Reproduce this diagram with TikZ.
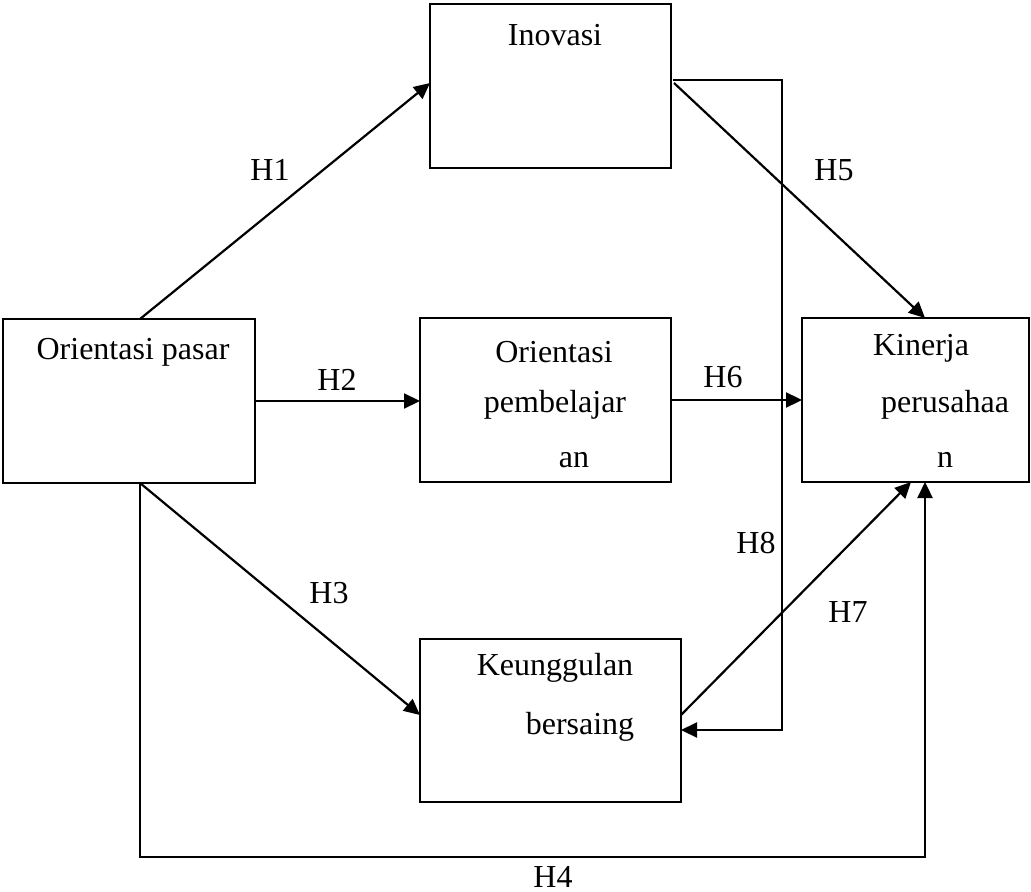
\documentclass[tikz,border=0pt]{standalone}
\usepackage{fontspec}
\setmainfont{Liberation Serif}
\usetikzlibrary{arrows.meta,calc}
\begin{document}
\begin{tikzpicture}[x=0.5pt,y=-0.5pt,
  box/.style={draw,line width=1.1pt,inner sep=0pt,outer sep=0pt},
  txt/.style={inner sep=0pt,font=\fontsize{16}{19}\selectfont},
  arr/.style={line width=1.1pt,-{Triangle[length=8pt,width=7.5pt]}},
  ln/.style={line width=1.1pt}]
\useasboundingbox (0,0) rectangle (1031,892);
% boxes
\node[box,minimum width=120.5pt,minimum height=82pt] (inov) at (550.5,86) {};
\node[box,minimum width=126pt,minimum height=82pt] (pasar) at (129,401) {};
\node[box,minimum width=125.5pt,minimum height=82pt] (belajar) at (545.5,400) {};
\node[box,minimum width=113.5pt,minimum height=82pt] (kinerja) at (915.5,400) {};
\node[box,minimum width=130.5pt,minimum height=81.5pt] (unggul) at (550.5,720.5) {};
% box texts
\node[txt] (tinov) at (555,35) {Inovasi};
\node[txt] (tpasar) at (133,352) {Orientasi pasar};
\node[txt] (tb1) at (554,352) {Orientasi};
\node[txt] (tb2) at (555,405) {pembelajar};
\node[txt] (tb3) at (574,460) {an};
\node[txt] (tk1) at (921,348) {Kinerja};
\node[txt] (tk2) at (945,405) {perusahaa};
\node[txt] (tk3) at (945,460) {n};
\node[txt] (tu1) at (555,668) {Keunggulan};
\node[txt] (tu2) at (580,727) {bersaing};
% connector labels
\node[txt] (lh1) at (270,170) {H1};
\node[txt] (lh2) at (337,380) {H2};
\node[txt] (lh3) at (329,593) {H3};
\node[txt] (lh4) at (553,877) {H4};
\node[txt] (lh5) at (834,170) {H5};
\node[txt] (lh6) at (723,377) {H6};
\node[txt] (lh7) at (848,612) {H7};
\node[txt] (lh8) at (756,543) {H8};
% coordinates
\coordinate (pN) at ($(pasar.north west)+(137,0)$);
\coordinate (pS) at ($(pasar.south west)+(137,0)$);
\coordinate (iW) at ($(inov.north west)+(0,79)$);
\coordinate (iE) at ($(inov.north east)+(3,79)$);
\coordinate (iE2) at ($(inov.north east)+(2,76)$);
\coordinate (h8c) at (782,80);
\coordinate (kN) at ($(kinerja.north west)+(123,0)$);
\coordinate (kS7) at ($(kinerja.south west)+(109,0)$);
\coordinate (kS4) at ($(kinerja.south west)+(123,0)$);
\coordinate (uW) at ($(unggul.north west)+(0,76)$);
\coordinate (uE) at ($(unggul.north east)+(0,76)$);
\coordinate (uE8) at ($(unggul.north east)+(0,91)$);
\coordinate (h4c) at ($(pS)+(0,374)$);
% connectors
\draw[arr] (pN) -- (iW);
\draw[arr] (pasar.east) -- (pasar.east -| belajar.west);
\draw[arr] (belajar.east) -- (belajar.east -| kinerja.west);
\draw[arr] (iE) -- (kN);
\draw[arr] (iE2) -- (h8c) |- (uE8);
\draw[arr] (pS) -- (uW);
\draw[arr] (uE) -- (kS7);
\draw[arr] (pS) -- (h4c) -| (kS4);
\end{tikzpicture}
\end{document}
